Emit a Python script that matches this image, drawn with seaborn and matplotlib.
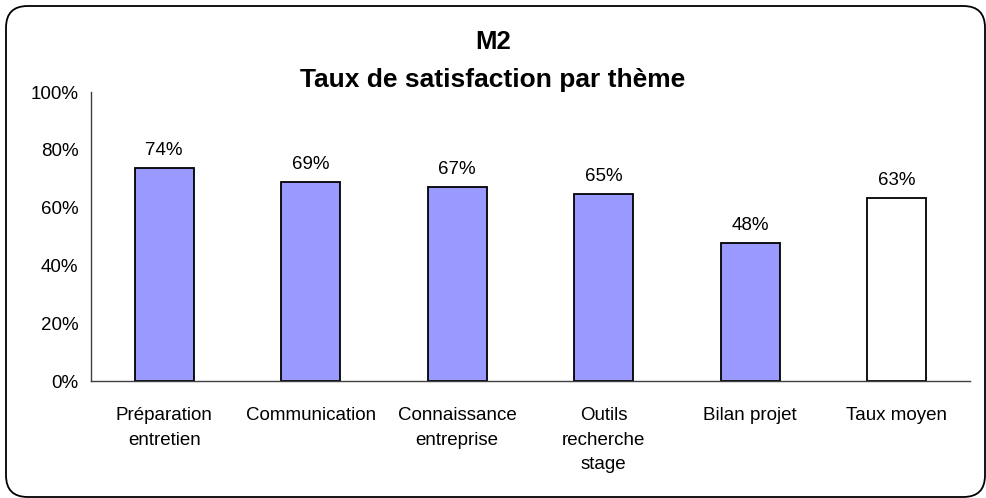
import matplotlib
matplotlib.use("Agg")
import matplotlib.pyplot as plt
from matplotlib.patches import FancyBboxPatch
from matplotlib.ticker import PercentFormatter, FixedLocator
import seaborn as sns
import pandas as pd

themes = ["Préparation\nentretien", "Communication", "Connaissance\nentreprise",
          "Outils\nrecherche\nstage", "Bilan projet", "Taux moyen"]
taux = [0.737, 0.688, 0.671, 0.646, 0.479, 0.633]
couleurs = ["#9999FF"] * 5 + ["#FFFFFF"]

sns.set_style("white")
plt.rcParams['font.family'] = ['Liberation Sans', 'DejaVu Sans']
plt.rcParams['text.color'] = 'black'
plt.rcParams['xtick.color'] = 'black'
plt.rcParams['ytick.color'] = 'black'

df = pd.DataFrame({"theme": themes, "taux": taux})

fig = plt.figure(figsize=(9.86, 4.98), dpi=100)
ax = fig.add_axes([91/986, 1 - 381/498, (970 - 91)/986, (381 - 92)/498])

sns.barplot(data=df, x="theme", y="taux", hue="theme", palette=couleurs, saturation=1,
            width=0.40, edgecolor="black", linewidth=1.3, legend=False, ax=ax)

for i, v in enumerate(taux):
    ax.text(i, v + 0.06, f"{round(v * 100):.0f}%", ha="center", va="center", fontsize=13.5)

ax.set_ylim(0, 1)
ax.set_xlim(-0.5, len(themes) - 0.5)
ax.set_yticks([0, 0.2, 0.4, 0.6, 0.8, 1.0])
ax.yaxis.set_major_formatter(PercentFormatter(1.0, decimals=0))
ax.xaxis.set_minor_locator(FixedLocator([i - 0.5 for i in range(len(themes) + 1)]))
ax.tick_params(axis="x", which="major", length=0, pad=19, labelsize=13.5)
ax.tick_params(axis="x", which="minor", length=5, color="#404040", direction="out")
ax.tick_params(axis="y", length=5, color="#404040", direction="out", pad=4, labelsize=13.5)
for lab in ax.get_xticklabels():
    lab.set_linespacing(1.55)
    lab.set_verticalalignment("top")
ax.set_xlabel("")
ax.set_ylabel("")
for s in ["top", "right"]:
    ax.spines[s].set_visible(False)
for s in ["left", "bottom"]:
    ax.spines[s].set_color("#404040")
    ax.spines[s].set_linewidth(1.0)

fig.text(0.5, 1 - 42/498, "M2", ha="center", va="center", fontsize=18.5, fontweight="bold")
fig.text(0.5, 1 - 80/498, "Taux de satisfaction par thème", ha="center", va="center",
         fontsize=19, fontweight="bold")

cadre = FancyBboxPatch((6/986, 1/498), (985 - 6)/986, (492 - 1)/498,
                       boxstyle="round,pad=0,rounding_size=0.022",
                       transform=fig.transFigure, fill=False, edgecolor="black",
                       linewidth=1.3, mutation_aspect=986/498)
fig.patches.append(cadre)

fig.savefig("out.png", dpi=100)
